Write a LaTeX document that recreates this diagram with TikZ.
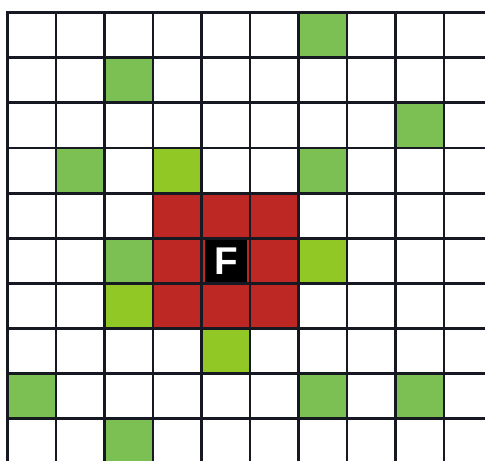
\documentclass[tikz,border=0pt]{standalone}
\usepackage{fontspec}
\setsansfont{Liberation Sans}
\definecolor{leafgreen}{RGB}{124,192,84}
\definecolor{limegreen}{RGB}{146,200,38}
\definecolor{brickred}{RGB}{190,40,36}
\definecolor{inkline}{RGB}{22,24,34}

\begin{document}
\begin{tikzpicture}[x=0.02cm,y=-0.02cm,
      gridline/.style={draw=inkline,line width=1.7pt,line cap=rect},
      flagcell/.style={fill=black,text=white,minimum size=0.84cm,inner sep=0pt,
        font=\sffamily\bfseries\fontsize{22}{22}\selectfont}]
    \useasboundingbox (0,0) rectangle (485,461);
    \fill[white] (0,0) rectangle (485,461);
    \clip (0,0) rectangle (485,461);
    % coloured cells, given as column/row
    \foreach \c/\r in {6/0,2/1,8/2,1/3,6/3,2/5,0/8,6/8,8/8,2/9}
      \fill[leafgreen] (7.5+48.5*\c,12.7+45.1*\r) rectangle ++(48.5,45.1);
    \foreach \c/\r in {3/3,6/5,2/6,4/7}
      \fill[limegreen] (7.5+48.5*\c,12.7+45.1*\r) rectangle ++(48.5,45.1);
    \foreach \c/\r in {3/4,4/4,5/4,3/5,4/5,5/5,3/6,4/6,5/6}
      \fill[brickred] (7.5+48.5*\c,12.7+45.1*\r) rectangle ++(48.5,45.1);
    % grid
    \foreach \i in {0,...,9} {
      \draw[gridline] (7.5+48.5*\i,12.7) -- (7.5+48.5*\i,470);
      \draw[gridline] (7.5,12.7+45.1*\i) -- (490,12.7+45.1*\i);
    }
    \node[flagcell] (flag) at (226,261) {F};
  \end{tikzpicture}
\end{document}
